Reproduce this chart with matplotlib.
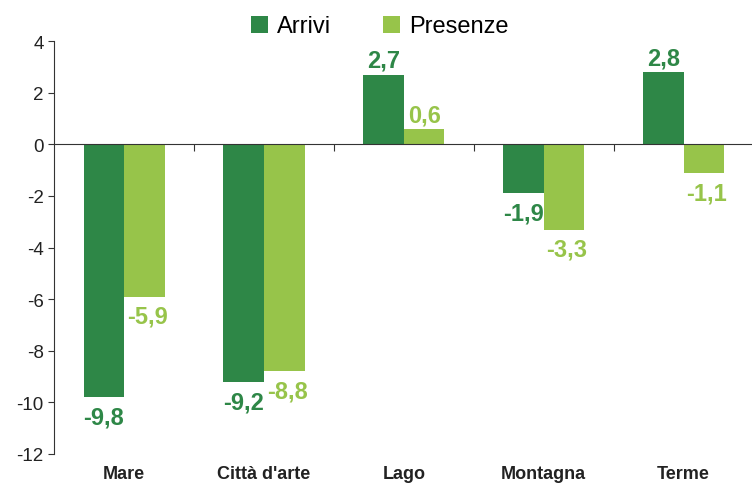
import matplotlib.pyplot as plt
import numpy as np

plt.rcParams['font.family'] = ['Liberation Sans', 'DejaVu Sans']
plt.rcParams['axes.unicode_minus'] = False

# data
categorie = ["Mare", "Città d'arte", "Lago", "Montagna", "Terme"]
arrivi = [-9.8, -9.2, 2.7, -1.9, 2.8]
presenze = [-5.9, -8.8, 0.6, -3.3, -1.1]

col_arr = "#2e8747"
col_pre = "#97c44a"

fig = plt.figure(figsize=(7.52, 4.85), dpi=100)
ax = fig.add_axes([0.072, 0.062, 0.93, 0.851])

x = np.arange(len(categorie))
w = 0.29
ax.bar(x - w/2, arrivi, w, color=col_arr, label="Arrivi")
ax.bar(x + w/2, presenze, w, color=col_pre, label="Presenze")

def etichette(vals, offs, col):
    for xi, v in zip(x + offs, vals):
        txt = ("%.1f" % v).replace(".", ",")
        if v >= 0:
            ax.annotate(txt, (xi, v), xytext=(0, 2), textcoords="offset points",
                        ha="center", va="bottom", fontsize=17, fontweight="bold", color=col)
        else:
            ax.annotate(txt, (xi, v), xytext=(2 if col == col_pre else 0, -6),
                        textcoords="offset points",
                        ha="center", va="top", fontsize=17, fontweight="bold", color=col)

etichette(arrivi, -w/2, col_arr)
etichette(presenze, w/2, col_pre)

ax.set_xlim(-0.5, len(categorie) - 0.5)
ax.set_ylim(-12, 4)
ax.set_yticks(range(-12, 5, 2))
ax.tick_params(axis="y", labelsize=13.5, length=4, color="#333333", labelcolor="#222222")

# asse x sullo zero, tacche ai confini delle categorie
ax.spines["bottom"].set_position(("data", 0))
ax.spines["top"].set_visible(False)
ax.spines["right"].set_visible(False)
ax.spines["left"].set_color("#333333")
ax.spines["bottom"].set_color("#333333")
ax.set_xticks(np.arange(0.5, len(categorie) - 0.5, 1))
ax.set_xticklabels([])
ax.tick_params(axis="x", length=5, direction="out", color="#333333")

for xi, c in zip(x, categorie):
    ax.text(xi, -12.42, c, ha="center", va="top", fontsize=13, fontweight="bold",
            color="#222222", transform=ax.transData)

fig.legend(loc="upper center", bbox_to_anchor=(0.505, 1.01), ncol=2, frameon=False,
           fontsize=17, handlelength=0.72, handleheight=0.72, columnspacing=2.2,
           handletextpad=0.4)

fig.savefig("out.png")
